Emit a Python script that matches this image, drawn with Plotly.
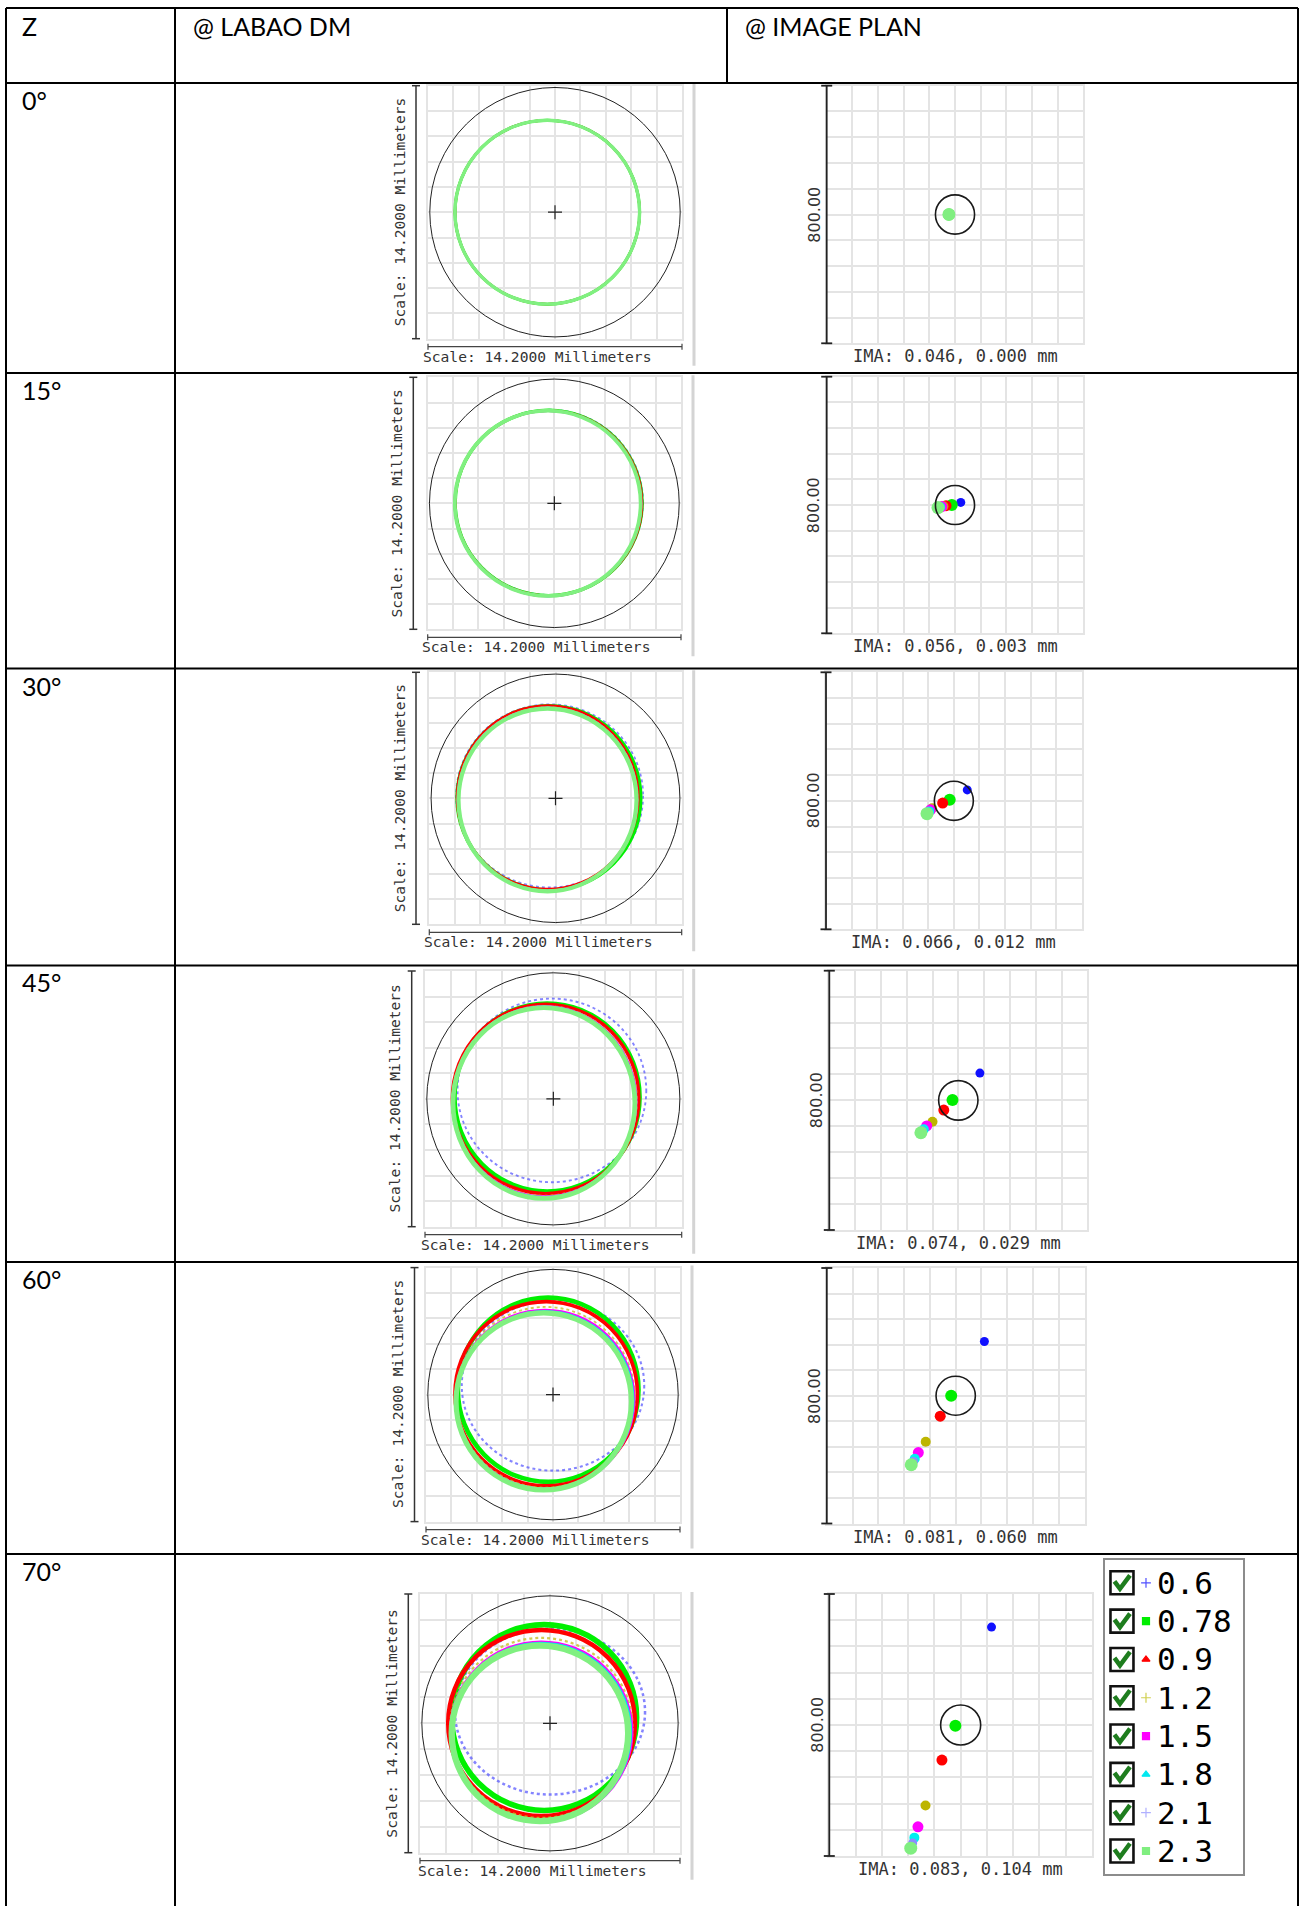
import plotly.graph_objects as go

W, H = 1301, 1906

# ---------------- data ----------------
ANGLES = ["0°", "15°", "30°", "45°", "60°", "70°"]
WAVELENGTHS = ["0.6", "0.78", "0.9", "1.2", "1.5", "1.8", "2.1", "2.3"]
IMA_X = [0.046, 0.056, 0.066, 0.074, 0.081, 0.083]
IMA_Y = [0.000, 0.003, 0.012, 0.029, 0.060, 0.104]
FP_SCALE_MM = 14.2
SP_SCALE_UM = 800.0
OUTER_R_MM = 7.0
AIRY_R_UM = 61.0

# footprint ellipses at the LABAO DM (mm), one row per angle, one value per wavelength
RING_CX = [
    [-0.43, -0.43, -0.43, -0.43, -0.43, -0.43, -0.43, -0.43],
    [-0.28, -0.32, -0.33, -0.35, -0.36, -0.36, -0.37, -0.37],
    [-0.33, -0.37, -0.44, -0.44, -0.45, -0.45, -0.45, -0.45],
    [-0.08, -0.34, -0.43, -0.47, -0.49, -0.50, -0.51, -0.52],
    [0.00, -0.27, -0.38, -0.42, -0.45, -0.47, -0.50, -0.52],
    [0.00, -0.32, -0.46, -0.47, -0.48, -0.50, -0.52, -0.55],
]
RING_CY = [
    [0.00, 0.00, 0.00, 0.00, 0.00, 0.00, 0.00, 0.00],
    [0.06, 0.02, 0.01, 0.00, -0.01, -0.01, -0.01, 0.00],
    [0.14, 0.02, 0.04, -0.02, -0.05, -0.06, -0.08, -0.09],
    [0.47, 0.09, 0.00, -0.10, -0.15, -0.18, -0.20, -0.23],
    [0.50, 0.27, 0.05, -0.15, -0.28, -0.32, -0.36, -0.38],
    [0.64, 0.32, 0.02, -0.25, -0.46, -0.50, -0.52, -0.55],
]
RING_RX = [
    [5.16, 5.16, 5.16, 5.16, 5.16, 5.16, 5.16, 5.16],
    [5.26, 5.24, 5.24, 5.23, 5.23, 5.22, 5.22, 5.21],
    [5.26, 5.16, 5.09, 5.06, 5.04, 5.03, 5.02, 5.01],
    [5.22, 5.12, 5.16, 5.10, 5.07, 5.05, 5.04, 5.03],
    [5.10, 5.05, 5.10, 5.00, 4.98, 4.95, 4.92, 4.90],
    [5.19, 5.05, 5.10, 4.98, 4.94, 4.90, 4.86, 4.82],
]
RING_RY = [
    [5.16, 5.16, 5.16, 5.16, 5.16, 5.16, 5.16, 5.16],
    [5.22, 5.22, 5.22, 5.22, 5.22, 5.22, 5.22, 5.22],
    [5.16, 5.19, 5.17, 5.16, 5.16, 5.15, 5.15, 5.15],
    [5.10, 5.22, 5.26, 5.27, 5.28, 5.29, 5.29, 5.30],
    [4.75, 5.15, 5.15, 5.05, 5.00, 4.97, 4.95, 4.95],
    [4.55, 5.10, 5.11, 4.94, 4.91, 4.88, 4.85, 4.82],
]

# spot centroids at the image plane (micrometres, relative to the Airy circle centre)
SPOT_X = [
    [-18, -19, -19, -19, -19, -19, -19, -19],
    [18, -10, -28, -36, -41, -46, -49, -53],
    [42, -13, -35, -68, -73, -77, -80, -84],
    [67, -18, -45, -80, -98, -107, -111, -116],
    [89, -14, -48, -93, -116, -127, -131, -138],
    [94, -16, -57, -107, -130, -141, -146, -152],
]
SPOT_Y = [
    [0, 0, 0, 0, 0, 0, 0, 0],
    [8, 0, -2, -4, -5, -6, -7, -8],
    [34, 3, -7, -23, -28, -33, -36, -40],
    [84, 1, -30, -66, -79, -89, -94, -100],
    [170, 0, -64, -144, -178, -197, -206, -216],
    [299, -2, -107, -246, -311, -344, -360, -376],
]

# ---------------- styles ----------------
RING_COLORS = ["rgba(80,80,255,0.7)", "#00f000", "#ff0000", "rgba(200,190,40,0.8)",
               "#ff00ff", "#00e8e8", "rgba(150,150,255,0.8)", "#80f080"]
RING_DASH = ["dot", "solid", "solid", "dot", "solid", "solid", "dot", "solid"]
RING_W = [1.8, 4.0, 3.2, 1.6, 2.6, 2.4, 1.6, 4.5]
ROW_W_FACTOR = [0.75, 0.85, 0.95, 1.05, 1.15, 1.4]
SPOT_COLORS = ["#1010ff", "#00ee00", "#ff0000", "#bdb500", "#ff00ff", "#00f0f0", "#8c8cff", "#80ee80"]
SPOT_SIZES = [9, 12, 11, 10, 11, 10, 9, 13]
LEG_COLORS = ["#5050ff", "#00ee00", "#ff0000", "#d0d050", "#ff00ff", "#00e8f0", "#b0b0ff", "#80ee80"]
LEG_SYMBOLS = ["cross-thin", "square", "triangle-up", "cross-thin", "square", "triangle-up", "cross-thin", "square"]

# panel boxes in page pixels: (x0, x1, y0, y1)
FP_BOX = [(428, 682, 85.7, 338.7), (427.7, 681, 377.3, 629.3), (429.3, 681.7, 672.3, 924.3),
          (425, 681.7, 971, 1226.7), (426, 680, 1267.6, 1521.6), (420, 680, 1594, 1852.7)]
FP_BAR_X = [416, 413.3, 416, 411.7, 414.5, 408.3]
SP_BOX = [(826.7, 1083.3, 85.7, 343.3), (826.7, 1083.3, 376.7, 633.3), (826, 1081.7, 672.3, 929.3),
          (829.3, 1087.3, 970.7, 1230), (826.8, 1084.6, 1268, 1523.5), (829.3, 1092, 1594, 1856)]
ROW_TOPS = [83, 373, 668.5, 965.5, 1262, 1554]
TABLE_TOP = 8
TABLE_L, TABLE_C1, TABLE_C2, TABLE_R = 6, 175, 727, 1298

GRID = "#e4e4e4"
TXT = "#333333"


def fx(x):
    return x / W


def fy(y):
    return 1 - y / H


fig = go.Figure()
shapes = []
annotations = []
layout_axes = {}


def line(x0, y0, x1, y1, color="black", width=2):
    shapes.append(dict(type="line", xref="paper", yref="paper", x0=fx(x0), y0=fy(y0),
                       x1=fx(x1), y1=fy(y1), line=dict(color=color, width=width)))


def text(x, y, s, size, family, color="black", xanchor="center", angle=0):
    annotations.append(dict(xref="paper", yref="paper", x=fx(x), y=fy(y), text=s, showarrow=False,
                            xanchor=xanchor, yanchor="middle", textangle=angle,
                            font=dict(size=size, family=family, color=color)))


def add_axes(k, box, rng, dtick, grid=True):
    x0, x1, y0, y1 = box
    xs = "xaxis" if k == 1 else f"xaxis{k}"
    ys = "yaxis" if k == 1 else f"yaxis{k}"
    common = dict(range=list(rng), tick0=rng[0], dtick=dtick, showticklabels=False, ticks="",
                  showgrid=grid, gridcolor=GRID, gridwidth=2, zeroline=False,
                  showline=grid, linecolor=GRID, linewidth=2, mirror=True, fixedrange=True)
    layout_axes[xs] = dict(domain=[fx(x0), fx(x1)], anchor=f"y{k}" if k > 1 else "y", **common)
    layout_axes[ys] = dict(domain=[fy(y1), fy(y0)], anchor=f"x{k}" if k > 1 else "x", **common)


half_fp = FP_SCALE_MM / 2
half_sp = SP_SCALE_UM / 2

for r, ang in enumerate(ANGLES):
    # ---------- footprint ----------
    k = 2 * r + 1
    xa, ya = ("x", "y") if k == 1 else (f"x{k}", f"y{k}")
    add_axes(k, FP_BOX[r], (-half_fp, half_fp), FP_SCALE_MM / 10)
    fig.add_trace(go.Scatter(x=[0], y=[0], mode="markers", xaxis=xa, yaxis=ya, showlegend=False,
                             marker=dict(symbol="cross-thin", size=10, line=dict(color="#222", width=1.2))))
    shapes.append(dict(type="circle", xref=xa, yref=ya, x0=-OUTER_R_MM, x1=OUTER_R_MM,
                       y0=-OUTER_R_MM, y1=OUTER_R_MM, line=dict(color="#222", width=1)))
    for w in range(len(WAVELENGTHS)):
        cx, cy = RING_CX[r][w], RING_CY[r][w]
        rx, ry = RING_RX[r][w], RING_RY[r][w]
        shapes.append(dict(type="circle", xref=xa, yref=ya, x0=cx - rx, x1=cx + rx,
                           y0=cy - ry, y1=cy + ry,
                           line=dict(color=RING_COLORS[w], width=RING_W[w] * ROW_W_FACTOR[r],
                                     dash=RING_DASH[w])))
    x0, x1, y0, y1 = FP_BOX[r]
    bx = FP_BAR_X[r]
    # vertical scale bar
    line(bx, y0, bx, y1, "#333", 1.5)
    line(bx - 4, y0, bx + 4, y0, "#333", 1.5)
    line(bx - 4, y1, bx + 4, y1, "#333", 1.5)
    text(bx - 17, (y0 + y1) / 2, "Scale: 14.2000 Millimeters", 14.6, "DejaVu Sans Mono", TXT, angle=-90)
    # horizontal scale bar
    line(x0, y1 + 8, x1, y1 + 8, "#444", 1.2)
    line(x0, y1 + 5, x0, y1 + 11, "#444", 1.2)
    line(x1, y1 + 5, x1, y1 + 11, "#444", 1.2)
    text((x0 + x1) / 2 - 18, y1 + 17.5, "Scale: 14.2000 Millimeters", 14.6, "DejaVu Sans Mono", TXT)
    # screenshot edge separator
    line(x1 + 12, y0 - 2, x1 + 12, y1 + 27, "#d4d4d4", 3)

    # ---------- spot diagram ----------
    k = 2 * r + 2
    xa, ya = f"x{k}", f"y{k}"
    add_axes(k, SP_BOX[r], (-half_sp, half_sp), SP_SCALE_UM / 10)
    for w, wl in enumerate(WAVELENGTHS):
        fig.add_trace(go.Scatter(x=[SPOT_X[r][w]], y=[SPOT_Y[r][w]], mode="markers", xaxis=xa, yaxis=ya,
                                 showlegend=False, name=wl,
                                 marker=dict(symbol="circle", size=SPOT_SIZES[w], color=SPOT_COLORS[w],
                                             line=dict(width=0))))
    shapes.append(dict(type="circle", xref=xa, yref=ya, x0=-AIRY_R_UM, x1=AIRY_R_UM,
                       y0=-AIRY_R_UM, y1=AIRY_R_UM, line=dict(color="#1a1a1a", width=1.6)))
    x0, x1, y0, y1 = SP_BOX[r]
    line(x0, y0, x0, y1, "#222", 1.8)
    line(x0 - 5.5, y0, x0 + 5.5, y0, "#222", 1.8)
    line(x0 - 5.5, y1, x0 + 5.5, y1, "#222", 1.8)
    text(x0 - 12.5, (y0 + y1) / 2, f"{SP_SCALE_UM:.2f}", 16, "DejaVu Sans", TXT, angle=-90)
    text((x0 + x1) / 2, y1 + 13, f"IMA: {IMA_X[r]:.3f}, {IMA_Y[r]:.3f} mm", 17, "DejaVu Sans Mono", TXT)

    # row label
    text(19.5, ROW_TOPS[r] + 17, ang, 25, "Lato", "black", xanchor="left")

# ---------------- table ----------------
for y in [TABLE_TOP] + ROW_TOPS:
    line(TABLE_L, y, TABLE_R, y, "black", 2)
line(TABLE_L, TABLE_TOP, TABLE_L, H, "black", 2)
line(TABLE_C1, TABLE_TOP, TABLE_C1, H, "black", 2)
line(TABLE_R, TABLE_TOP, TABLE_R, H, "black", 2)
line(TABLE_C2, TABLE_TOP, TABLE_C2, ROW_TOPS[0], "black", 2)
text(19.5, 26, "Z", 25, "Lato", "black", xanchor="left")
text(191, 26, "@ LABAO DM", 25, "Lato", "black", xanchor="left")
text(743, 26, "@ IMAGE PLAN", 25, "Lato", "black", xanchor="left")

# ---------------- legend box ----------------
LEG_BOX = (1105, 1243, 1560, 1874)
LEG_XPX = LEG_BOX[1] - LEG_BOX[0]
LEG_ROW_PX = 38.3
layout_axes["xaxis13"] = dict(domain=[fx(LEG_BOX[0]), fx(LEG_BOX[1])], anchor="y13", range=[0, 1],
                              showgrid=False, zeroline=False, showticklabels=False, ticks="",
                              showline=True, mirror=True, linecolor="#8c8c8c", linewidth=1.5, fixedrange=True)
layout_axes["yaxis13"] = dict(domain=[fy(LEG_BOX[3]), fy(LEG_BOX[2])], anchor="x13", range=[7.60, -0.595],
                              showgrid=False, zeroline=False, showticklabels=False, ticks="",
                              showline=True, mirror=True, linecolor="#8c8c8c", linewidth=1.5, fixedrange=True)
idx = list(range(len(WAVELENGTHS)))
CB_X = 0.123
fig.add_trace(go.Scatter(x=[CB_X] * len(idx), y=idx, mode="markers", xaxis="x13", yaxis="y13",
                         showlegend=False,
                         marker=dict(symbol="square", size=23, color="white", line=dict(color="#111", width=2.6))))
# check marks (decoration of the checkbox)
for i in idx:
    pts = [(-7.5, -1.5), (-2.0, 6.0), (8.0, -7.5)]
    p = " L ".join(f"{CB_X + dx / LEG_XPX:.5f},{i + dy / LEG_ROW_PX:.5f}" for dx, dy in pts)
    shapes.append(dict(type="path", xref="x13", yref="y13", path="M " + p,
                       line=dict(color="#1e7d1e", width=4.5)))
fig.add_trace(go.Scatter(x=[0.297] * len(idx), y=idx, mode="markers", xaxis="x13", yaxis="y13",
                         showlegend=False,
                         marker=dict(symbol=LEG_SYMBOLS, size=7, color=LEG_COLORS,
                                     line=dict(color=LEG_COLORS, width=1.2))))
for i, wl in enumerate(WAVELENGTHS):
    annotations.append(dict(xref="x13", yref="y13", x=0.36, y=i, text=wl, showarrow=False,
                            xanchor="left", yanchor="middle",
                            font=dict(size=31, family="DejaVu Sans Mono", color="black")))

fig.update_layout(width=W, height=H, margin=dict(l=0, r=0, t=0, b=0), autosize=False,
                  paper_bgcolor="white", plot_bgcolor="white", showlegend=False,
                  shapes=shapes, annotations=annotations, **layout_axes)

fig.write_html("out.html", config={"displayModeBar": False},
               post_script="document.body.style.margin='0px';document.body.style.overflow='hidden';")
